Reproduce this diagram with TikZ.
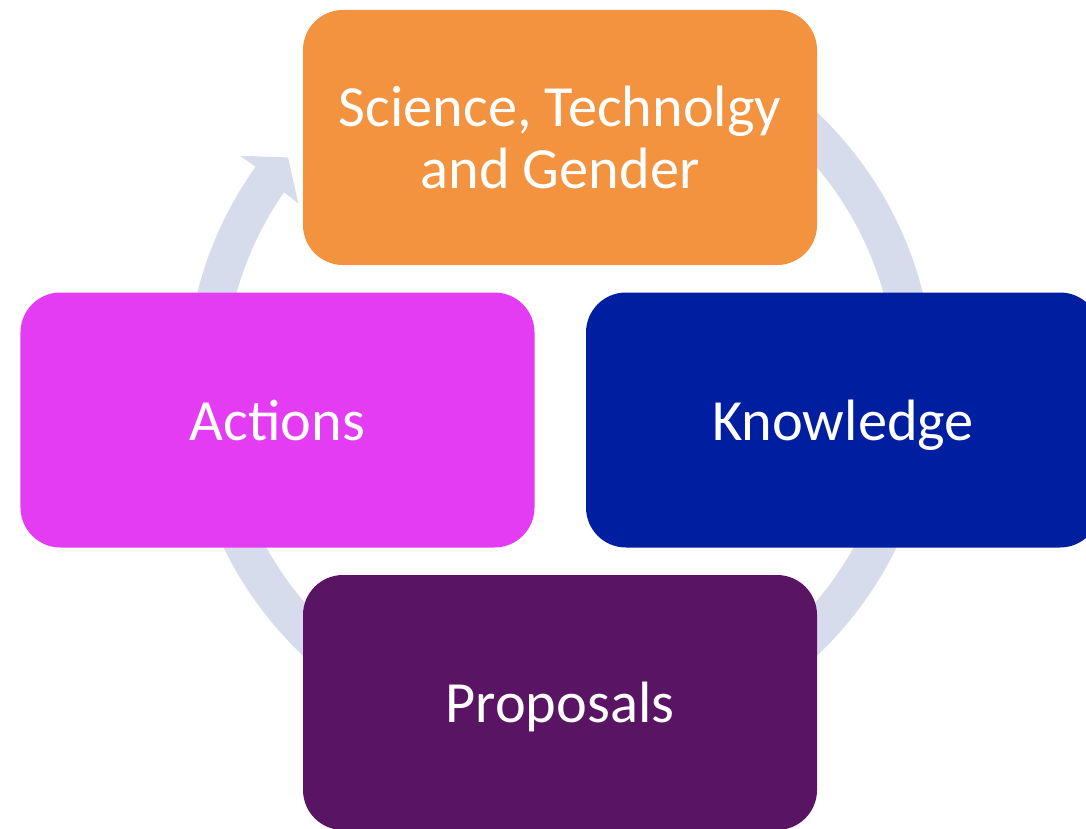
\documentclass[tikz,border=0pt]{standalone}
\usepackage{fontspec}
\setmainfont{Carlito}
\usetikzlibrary{calc}
\definecolor{ringgray}{RGB}{215,220,236}
\definecolor{stageorange}{RGB}{243,146,63}
\definecolor{stagemagenta}{RGB}{227,60,243}
\definecolor{stageblue}{RGB}{0,30,160}
\definecolor{stagepurple}{RGB}{89,20,100}
\tikzset{
  stagebox/.style={rounded corners=0.4cm, minimum width=5.14cm, minimum height=2.55cm,
    inner sep=0pt, text=white, align=center, font=\fontsize{16.6}{17.6}\selectfont},
  stageline/.style={stagebox, text height=0.4cm, text depth=0cm},
}

\begin{document}
\begin{tikzpicture}
	%%%%% FRAME %%%%%
	\useasboundingbox (0,0) rectangle (10.86,8.28);
	\clip (0,0) rectangle (10.86,8.28);
	
	%%%%% CYCLE ARROW %%%%%
	\coordinate (hub) at (5.60,4.44);
	\fill[ringgray] ($(hub)+(90:3.74)$) arc (90:-215.5:3.74)
		-- ($(hub)+(144.5:3.93)$) -- ($(hub)+(140.2:3.54)$)
		-- ($(hub)+(145.4:3.18)$) -- ($(hub)+(145.2:3.36)$)
		arc (-214.8:90:3.36) -- cycle;
	
	%%%%% STAGES %%%%%
	\node[stagebox, fill=stageorange] (science) at (5.60,6.905) {Science, Technolgy\\and Gender};
	\node[stageline, fill=stagemagenta] (actions) at (2.775,4.08) {Actions};
	\node[stageline, fill=stageblue] (knowledge) at (8.43,4.08) {Knowledge};
	\node[stageline, fill=stagepurple] (proposals) at (5.60,1.255) {Proposals};
\end{tikzpicture}
\end{document}
